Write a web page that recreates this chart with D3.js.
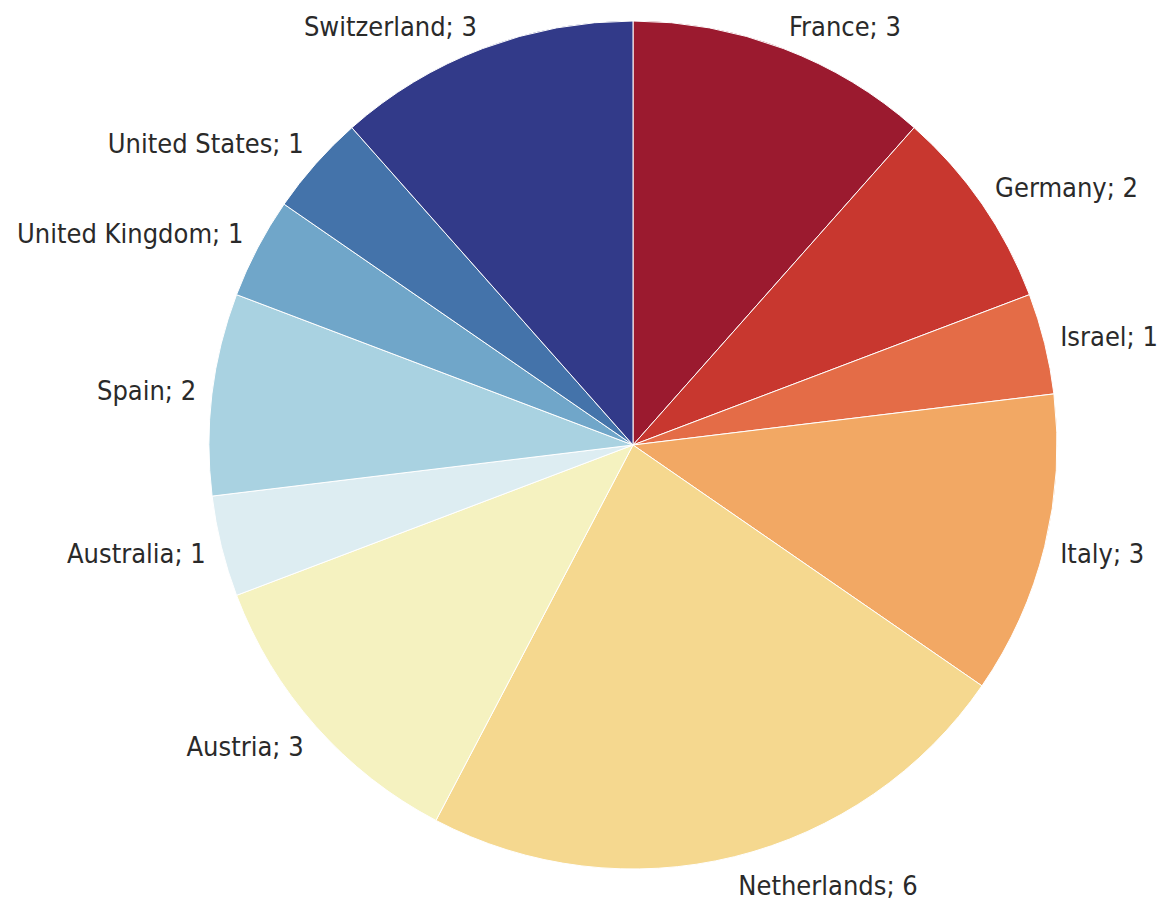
<!DOCTYPE html>
<html><head><meta charset="utf-8">
<script src="https://cdn.jsdelivr.net/npm/d3@7"></script>
<style>body{margin:0;background:#fff}svg{display:block}text{font-family:"Liberation Sans Narrow","DejaVu Sans Condensed",Roboto,sans-serif;fill:#2a2a2a}</style>
</head><body>
<svg id="c" width="1166" height="907"></svg>
<script>
const categories = ["France","Germany","Israel","Italy","Netherlands","Austria","Australia","Spain","United Kingdom","United States","Switzerland"];
const values = [3,2,1,3,6,3,1,2,1,1,3];
const colors = ["#9b1a2f","#c8372f","#e46c47","#f2a864","#f5d88f","#f5f2c0","#ddedf2","#a9d2e1","#70a6c9","#4473aa","#323a89"];

const W = 1166, H = 907, cx = 633, cy = 445, R = 424;
const svg = d3.select("#c");
const g = svg.append("g").attr("transform", `translate(${cx},${cy})`);
const data = categories.map((c,i)=>({name:c, value:values[i], color:colors[i]}));
const pie = d3.pie().value(d=>d.value).sort(null);
const arcs = pie(data);
const arc = d3.arc().innerRadius(0).outerRadius(R);
g.selectAll("path").data(arcs).join("path")
  .attr("d", arc).attr("fill", d=>d.data.color)
  .attr("stroke", "#fff").attr("stroke-width", 1);

const LR = R + 16;
g.selectAll("text").data(arcs).join("text")
  .each(function(d){
    const a = (d.startAngle + d.endAngle)/2;
    const x = LR*Math.sin(a);
    let y = -LR*Math.cos(a) - 14*Math.cos(a);
    y = Math.max(y, 27 - cy);
    d3.select(this).attr("x", x).attr("y", y).attr("dy","0.35em")
      .attr("text-anchor", Math.sin(a) >= 0 ? "start" : "end");
  })
  .style("font-size","27px")
  .text(d=>`${d.data.name}; ${d.data.value}`);
</script>
</body></html>
